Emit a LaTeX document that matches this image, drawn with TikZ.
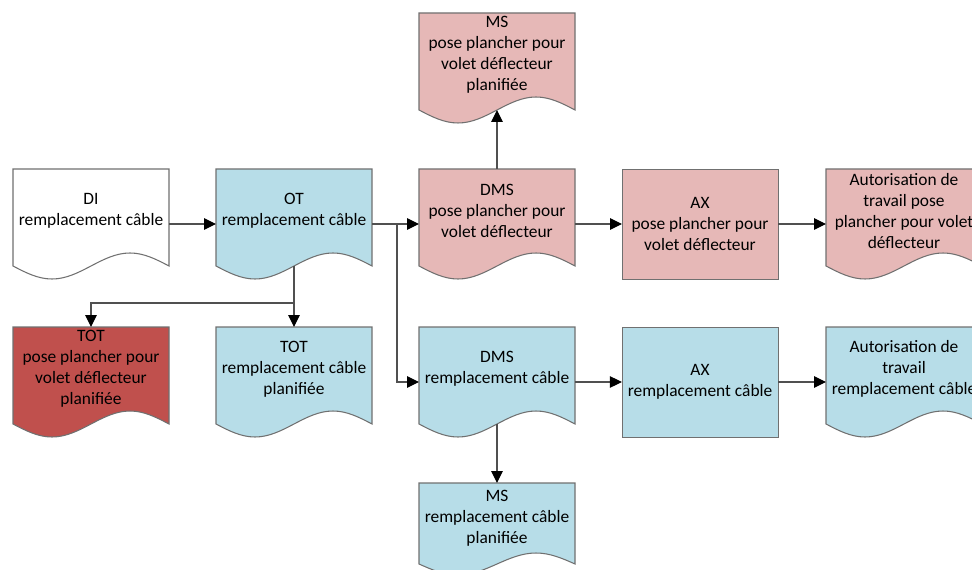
\documentclass[tikz,border=0pt]{standalone}
\usepackage{fontspec}
\setmainfont{Carlito}
\usetikzlibrary{arrows.meta,backgrounds}
\definecolor{pinkfill}{HTML}{E6B8B7}
\definecolor{bluefill}{HTML}{B7DDE8}
\definecolor{redfill}{HTML}{C0504D}
\definecolor{edgegray}{HTML}{707070}
\definecolor{linegray}{HTML}{505050}
\tikzset{
  docbox/.style={minimum width=3.12cm, minimum height=1.68cm, align=center, inner sep=0pt, outer sep=0pt},
  procbox/.style={draw=edgegray, minimum width=3.12cm, minimum height=2.2cm, align=center, outer sep=0pt},
  link/.style={draw=linegray, line width=0.6pt},
  linkarrow/.style={link, arrows={-Triangle[length=0.24cm, width=0.23cm, color=black]}}
}
\begin{document}
\begin{tikzpicture}[font=\fontsize{9.9}{11.9}\selectfont]
\useasboundingbox (0,0) rectangle (19.44,-11.38);
% Documents
\node[docbox] (msp) at (9.94,-1.10) {MS\\pose plancher pour\\volet déflecteur\\planifiée};
\node[docbox] (di) at (1.82,-4.22) {DI\\remplacement câble};
\node[docbox] (ot) at (5.88,-4.22) {OT\\remplacement câble};
\node[docbox] (dmsp) at (9.94,-4.22) {DMS\\pose plancher pour\\volet déflecteur};
\node[docbox] (autp) at (18.08,-4.22) {Autorisation de\\travail pose\\plancher pour volet\\déflecteur};
\node[docbox] (totr) at (1.82,-7.38) {TOT\\pose plancher pour\\volet déflecteur\\planifiée};
\node[docbox] (totb) at (5.88,-7.38) {TOT\\remplacement câble\\planifiée};
\node[docbox] (dmsb) at (9.94,-7.38) {DMS\\remplacement câble};
\node[docbox] (autb) at (18.08,-7.38) {Autorisation de\\travail\\remplacement câble};
\node[docbox, minimum height=1.4cm] (msb) at (9.94,-10.36) {MS\\remplacement câble\\planifiée};
% Actions
\node[procbox, fill=pinkfill] (axp) at (14.00,-4.48) {AX\\pose plancher pour\\volet déflecteur};
\node[procbox, fill=bluefill] (axb) at (14.00,-7.64) {AX\\remplacement câble};
% Wavy document shapes
\begin{scope}[on background layer]
\foreach \n/\c/\a in {msp/pinkfill/0.26, di/white/0.26, ot/bluefill/0.26, dmsp/pinkfill/0.26,
    autp/pinkfill/0.26, totr/redfill/0.26, totb/bluefill/0.26, dmsb/bluefill/0.26,
    autb/bluefill/0.26, msb/bluefill/0.22}
  \filldraw[fill=\c, draw=edgegray, line width=0.6pt] (\n.north west) -- (\n.north east) -- (\n.south east) -- ++(0,-\a)
    sin ++(-0.78,\a) cos ++(-0.78,-\a) sin ++(-0.78,-\a) cos ++(-0.78,\a) -- cycle;
\end{scope}
% Connectors
\coordinate (fork) at (7.94,-4.48);
\coordinate (split) at (5.88,-6.06);
\draw[linkarrow] ([yshift=-0.26cm]di.east) -- ([yshift=-0.26cm]ot.west);
\draw[link] ([yshift=-0.26cm]ot.east) -- (fork);
\draw[linkarrow] (fork) -- ([yshift=-0.26cm]dmsp.west);
\draw[linkarrow] (fork) |- ([yshift=-0.26cm]dmsb.west);
\draw[link] ([yshift=-0.26cm]ot.south) -- (split);
\draw[linkarrow] (split) -- (totb.north);
\draw[linkarrow] (split) -| (totr.north);
\draw[linkarrow] (dmsp.north) -- ([yshift=-0.26cm]msp.south);
\draw[linkarrow] ([yshift=-0.26cm]dmsp.east) -- (axp.west);
\draw[linkarrow] (axp.east) -- ([yshift=-0.26cm]autp.west);
\draw[linkarrow] ([yshift=-0.26cm]dmsb.east) -- (axb.west);
\draw[linkarrow] (axb.east) -- ([yshift=-0.26cm]autb.west);
\draw[linkarrow] ([yshift=-0.26cm]dmsb.south) -- (msb.north);
\end{tikzpicture}
\end{document}
